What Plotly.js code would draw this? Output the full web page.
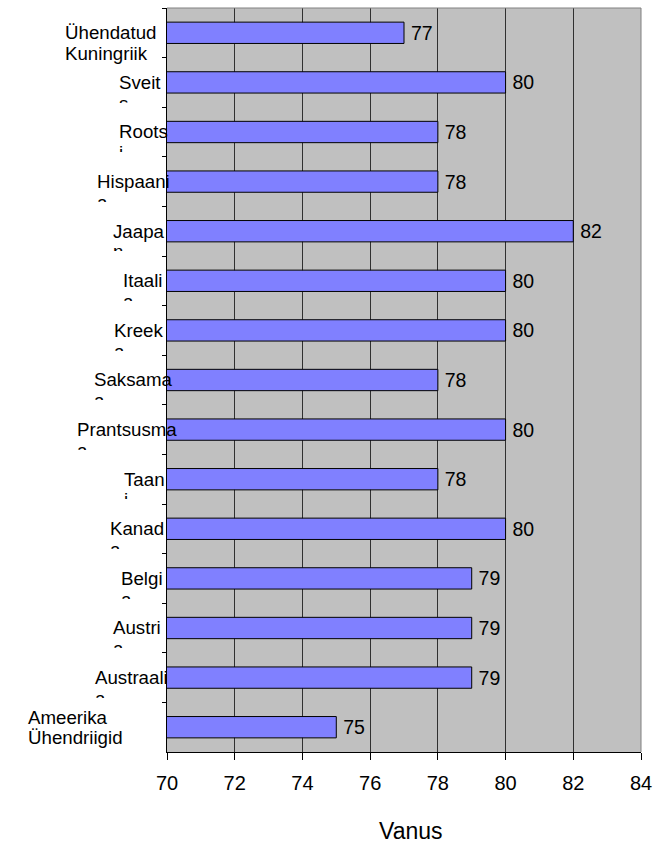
<!DOCTYPE html>
<html>
<head>
<meta charset="utf-8">
<script src="https://cdn.plot.ly/plotly-3.0.1.min.js"></script>
<style>
  html, body { margin: 0; padding: 0; background: #ffffff; }
  #chart { width: 658px; height: 845px; }
</style>
</head>
<body>
<div id="chart"></div>
<script>
// Oodatav eluiga riigiti (aastates)
const countries = [
  'Ühendatud Kuningriik', 'Sveits', 'Rootsi', 'Hispaania', 'Jaapan',
  'Itaalia', 'Kreeka', 'Saksamaa', 'Prantsusmaa', 'Taani',
  'Kanada', 'Belgia', 'Austria', 'Austraalia', 'Ameerika Ühendriigid'
];
const lifeExpectancy = [77, 80, 78, 78, 82, 80, 80, 78, 80, 78, 80, 79, 79, 79, 75];
const xTicks = [70, 72, 74, 76, 78, 80, 82, 84];
const xTitle = 'Vanus';

// ---- layout constants ----
const W = 658, H = 845;
const M = { l: 167, r: 17, t: 8, b: 93 };
const plotW = W - M.l - M.r;
const plotH = H - M.t - M.b;
const toPaperX = px => (px - M.l) / plotW;
const toPaperY = py => (H - M.b - py) / plotH;

const FONT = 'Liberation Sans, Arial, Helvetica, sans-serif';
const LABEL_SIZE = 18.7;
const ASCENT = 0.905 * LABEL_SIZE;   // top of text box to baseline

// left edge (px) of each category label block
const labelLeftPx = [64, 118, 118, 96, 112, 122, 113, 93, 76, 123, 109, 120, 112, 94, 27];
// baseline of the first and second label line, px below the band centre
const labelBaseline = [
  [5.2, 26], [5.4, 26.1], [5.4, 26.1], [5.4, 26.1], [5.4, 26.1],
  [5.4, 26.1], [5.4, 26.1], [5.4, 26.1], [5.4, 26.1], [5.4, 26.1],
  [5.4, 26.1], [5.4, 26.1], [5.4, 26.1], [5.4, 26.1], [-3.9, 16.1]
];
// visible height of an overflowing second line (label cell cuts it off)
const OVERFLOW_VISIBLE = 9.9;

// Category labels wrap onto two lines; single words break before the last
// letter, and that overflow line is cut off by the label cell.
function wrapLabel(name) {
  const sp = name.indexOf(' ');
  if (sp > 0) return { lines: [name.slice(0, sp), name.slice(sp + 1)], clipped: false };
  return { lines: [name.slice(0, -1), name.slice(-1)], clipped: true };
}

const annotations = [];
countries.forEach((name, i) => {
  const w = wrapLabel(name);
  const x = toPaperX(labelLeftPx[i]);
  w.lines.forEach((line, k) => {
    const ann = {
      text: line, x: x, xref: 'paper', xanchor: 'left',
      y: name, yref: 'y', yanchor: 'top', yshift: ASCENT - labelBaseline[i][k],
      showarrow: false, align: 'left', valign: 'top', borderpad: 0,
      font: { family: FONT, size: LABEL_SIZE, color: '#000000' }
    };
    if (w.clipped && k === 1) ann.height = OVERFLOW_VISIBLE;
    annotations.push(ann);
  });
});

annotations.push({
  text: xTitle, x: toPaperX(410.5), xref: 'paper', xanchor: 'center',
  y: toPaperY(831), yref: 'paper', yanchor: 'middle',
  showarrow: false, font: { family: FONT, size: 23, color: '#000000' }
});

const bars = {
  type: 'bar',
  orientation: 'h',
  y: countries,
  x: lifeExpectancy,
  base: 0,
  text: lifeExpectancy.map(String),
  texttemplate: '\u2009%{text}',
  textposition: 'outside',
  constraintext: 'none',
  cliponaxis: false,
  textfont: { family: FONT, size: 19.5, color: '#000000' },
  marker: { color: '#8080FF', line: { color: '#000000', width: 1 } },
  hoverinfo: 'skip',
  showlegend: false
};

const boundaries = [];
for (let k = 0; k <= countries.length; k++) boundaries.push(k - 0.5);
const yRange = [countries.length - 0.5, -0.5];

const layout = {
  width: W, height: H,
  margin: M,
  paper_bgcolor: '#ffffff',
  plot_bgcolor: '#C0C0C0',
  font: { family: FONT, color: '#000000' },
  bargap: 0.57,
  showlegend: false,
  xaxis: {
    range: [70, 84],
    tickvals: xTicks,
    ticktext: xTicks.map(String),
    ticks: 'outside', ticklen: 7, tickwidth: 1, tickcolor: '#000000',
    ticklabelstandoff: 6,
    tickfont: { family: FONT, size: 20, color: '#000000' },
    showline: true, linecolor: '#000000', linewidth: 1,
    showgrid: true, gridcolor: '#303030', gridwidth: 1,
    zeroline: false, fixedrange: true
  },
  yaxis: {
    type: 'category',
    categoryorder: 'array', categoryarray: countries,
    range: yRange, autorange: false,
    showticklabels: false,
    ticks: 'outside', tickson: 'boundaries', ticklen: 4, tickwidth: 1, tickcolor: '#000000',
    showline: true, linecolor: '#000000', linewidth: 1,
    showgrid: false, zeroline: false, fixedrange: true
  },
  yaxis2: {
    overlaying: 'y', anchor: 'x', side: 'left',
    range: yRange, autorange: false,
    tickvals: boundaries,
    ticks: 'inside', ticklen: 3, tickwidth: 1, tickcolor: '#000000',
    showticklabels: false, showline: false, showgrid: false, zeroline: false,
    fixedrange: true
  },
  shapes: [{
    type: 'path', xref: 'paper', yref: 'paper',
    path: 'M0,1 L1,1 L1,0',
    line: { color: '#808080', width: 1 },
    layer: 'above'
  }],
  annotations: annotations
};

Plotly.newPlot('chart', [bars], layout, { displayModeBar: false, staticPlot: true });
</script>
</body>
</html>
